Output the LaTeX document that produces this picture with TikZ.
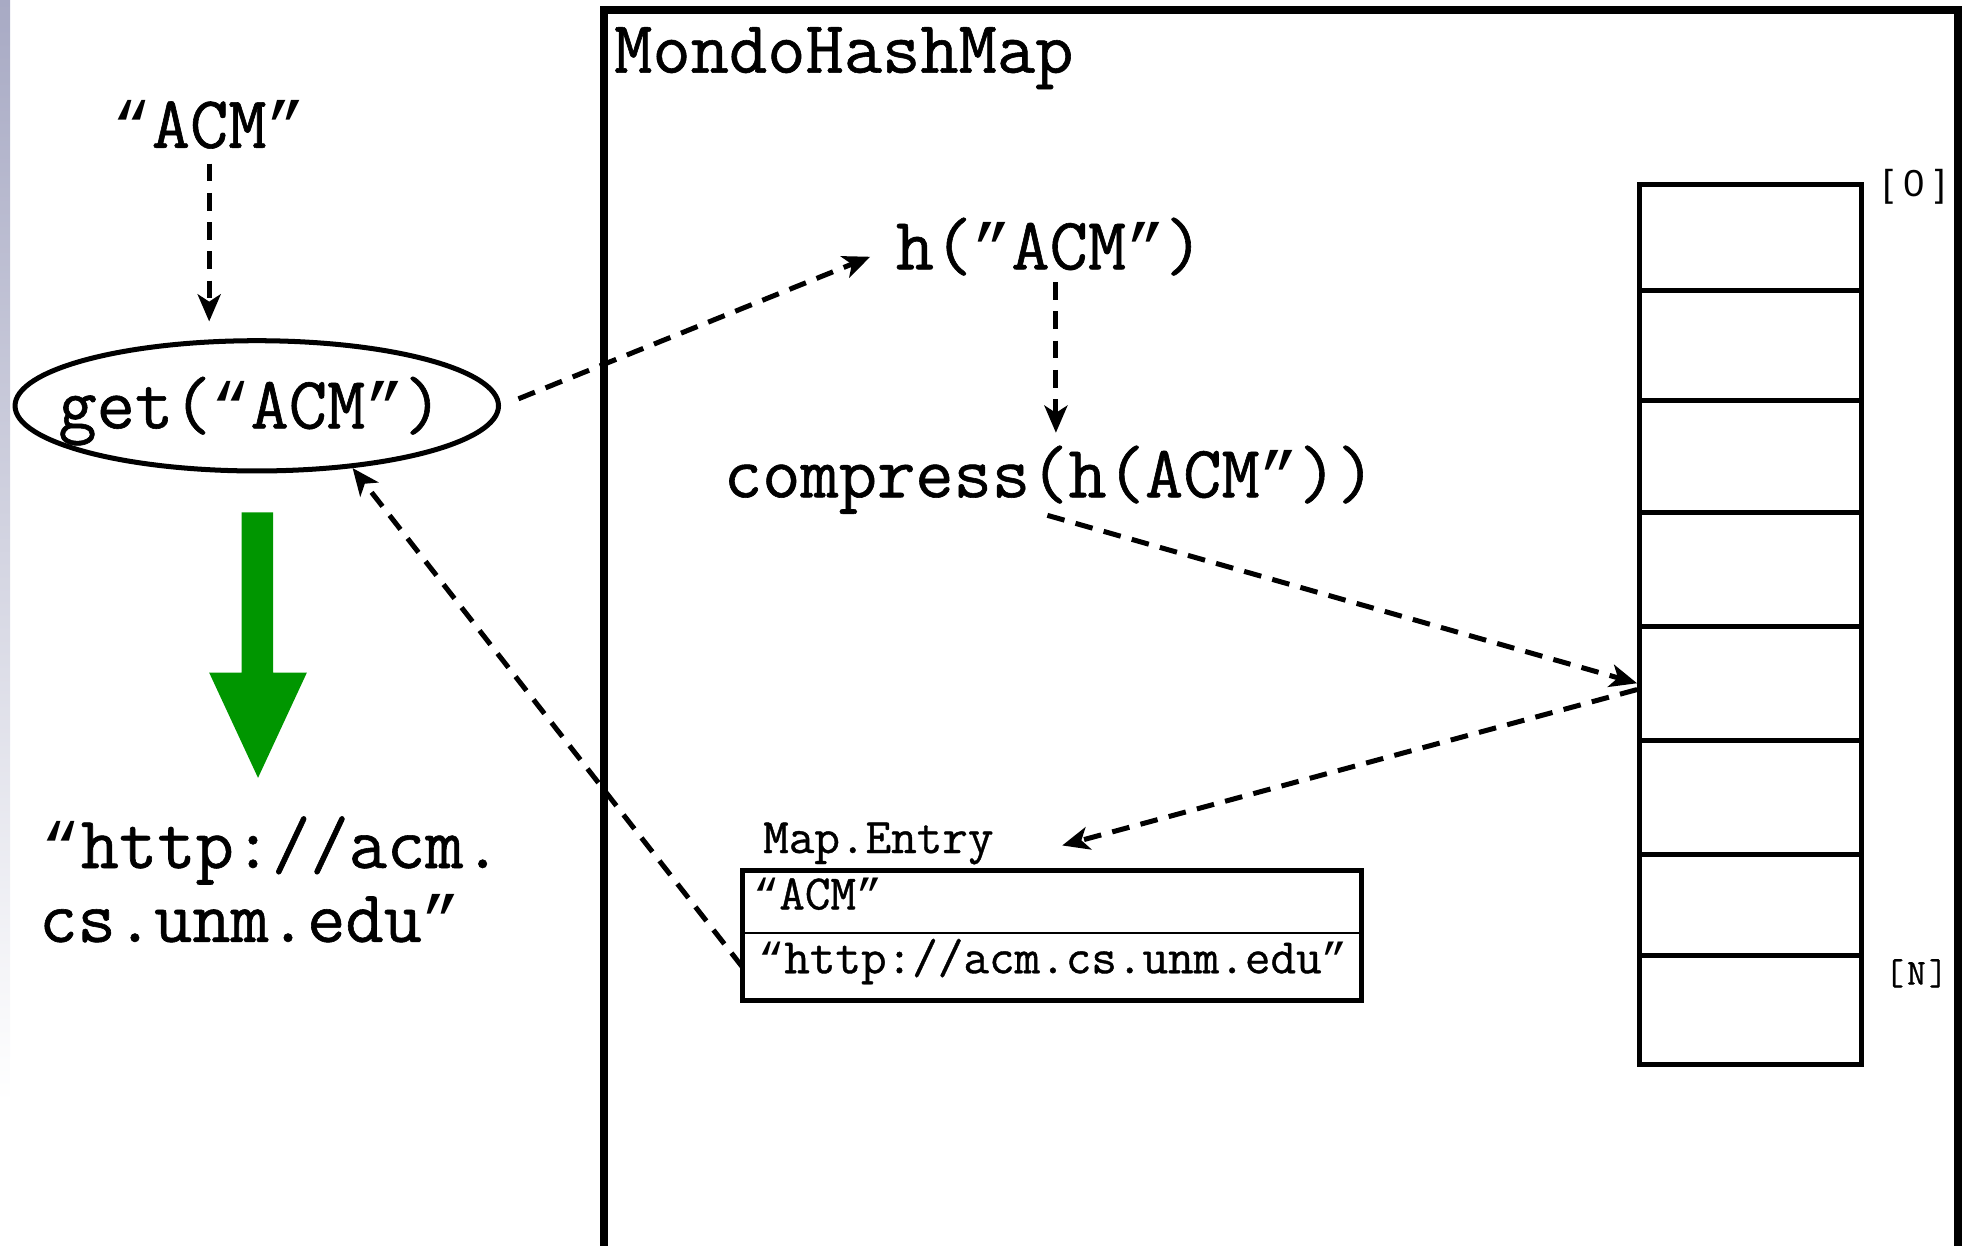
\documentclass[tikz,border=0pt]{standalone}
\usepackage{fontspec}
\setmainfont{Liberation Serif}
\newfontfamily\cour[FakeBold=0.8]{Latin Modern Mono}
\newfontfamily\sansf{Liberation Sans}
\newfontfamily\qf[Scale=0.875]{Liberation Mono}
\newcommand{\myoq}{{\qf “}}
\newcommand{\mycq}{{\qf ”}}
\usetikzlibrary{arrows.meta,shapes.geometric}
\definecolor{arrowgreen}{RGB}{0,150,0}
\definecolor{stripe}{RGB}{168,170,196}
\begin{document}
\begin{tikzpicture}[x=0.6pt,y=-0.6pt,
  txt/.style={inner sep=0pt, font=\cour\fontsize{35.6}{40}\selectfont},
  small/.style={inner sep=0pt, font=\cour\fontsize{23.8}{27}\selectfont},
  dasharrow/.style={line width=2.4pt, dash pattern=on 8.5pt off 5.5pt, -{Stealth[length=13pt,width=11pt,inset=3.5pt]}},
  cell/.style={draw, line width=2.4pt, minimum width=106.2pt, inner sep=0pt, anchor=north},
]
\useasboundingbox (0,0) rectangle (1568,994);
\clip (0,0) rectangle (1568,994);
\shade[top color=stripe, bottom color=white] (0,0) rectangle (8,880);
\draw[line width=4pt] (482,8) rectangle (1563,1010);

% left side
\node[txt, anchor=base] (acm) at (167,118) {\myoq ACM\mycq};
\node[ellipse, draw, line width=2.4pt, minimum width=231.6pt, minimum height=62.4pt, inner sep=0pt] (get) at (205,324) {};
\node[txt, anchor=base] (gettxt) at (200,342) {get(\myoq ACM\mycq)};
\fill[arrowgreen] (193,409) -- (218,409) -- (218,537) -- (245,537) -- (206,621) -- (167,537) -- (193,537) -- cycle;
\node[txt, anchor=base west] (url1) at (33,693) {\myoq http://acm.};
\node[txt, anchor=base west] (url2) at (31,752) {cs.unm.edu\mycq};

% map
\node[txt, anchor=base west] (mondo) at (490,58) {MondoHashMap};
\node[txt, anchor=base] (hacm) at (838,215) {h(\mycq ACM\mycq)};
\node[txt, anchor=base] (comp) at (838,397) {compress(h(ACM\mycq))};

% entry
\node[small, anchor=base west] (lbl) at (609,681) {Map.Entry};
\node[draw, line width=2.4pt, minimum width=296.4pt, minimum height=62.4pt, inner sep=0pt] (entry) at (840,747) {};
\draw[line width=1.2pt] (593,745) -- (1087,745);
\node[inner sep=0pt, minimum width=296.4pt, minimum height=32.4pt] (evalcell) at (840,772) {};
\node[small, anchor=base west] (ekey) at (601,726) {\myoq ACM\mycq};
\node[small, anchor=base west] (eval) at (605,777) {\myoq http://acm.cs.unm.edu\mycq};
\coordinate (etip) at (848,675);

% array
\node[cell, minimum height=51pt] (c1) at (1397.5,145) {};
\node[cell, minimum height=52.8pt] (c2) at (1397.5,230) {};
\node[cell, minimum height=53.4pt] (c3) at (1397.5,318) {};
\node[cell, minimum height=54.6pt] (c4) at (1397.5,407) {};
\node[cell, minimum height=54.6pt] (c5) at (1397.5,498) {};
\node[cell, minimum height=54.6pt] (c6) at (1397.5,589) {};
\node[cell, minimum height=48.6pt] (c7) at (1397.5,680) {};
\node[cell, minimum height=52.2pt] (c8) at (1397.5,761) {};
\node[inner sep=0pt, font=\sansf\fontsize{18}{20}\selectfont, anchor=base] (l0) at (1528,157) {[\hspace{5pt}0\hspace{5pt}]};
\node[inner sep=0pt, font=\cour\fontsize{17.5}{20}\selectfont, anchor=base] (lN) at (1530,786) {[\hspace{1.5pt}N\hspace{1.5pt}]};

% connectors
\draw[dasharrow, shorten <=7pt, shorten >=8pt] (acm.south) -- (acm.south |- get.north);
\draw[dasharrow, shorten <=9pt, shorten >=13pt] (get.east) -- (hacm.west);
\draw[dasharrow, shorten <=3pt, shorten >=6pt] ([xshift=3pt]hacm.south) -- ([xshift=3pt]comp.north);
\draw[dasharrow, shorten <=2pt] ([xshift=-3pt]comp.south) -- (c5.west);
\draw[dasharrow] ([yshift=-3pt]c5.west) -- (etip);
\draw[dasharrow] (evalcell.west) -- (get.-33);
\end{tikzpicture}
\end{document}
